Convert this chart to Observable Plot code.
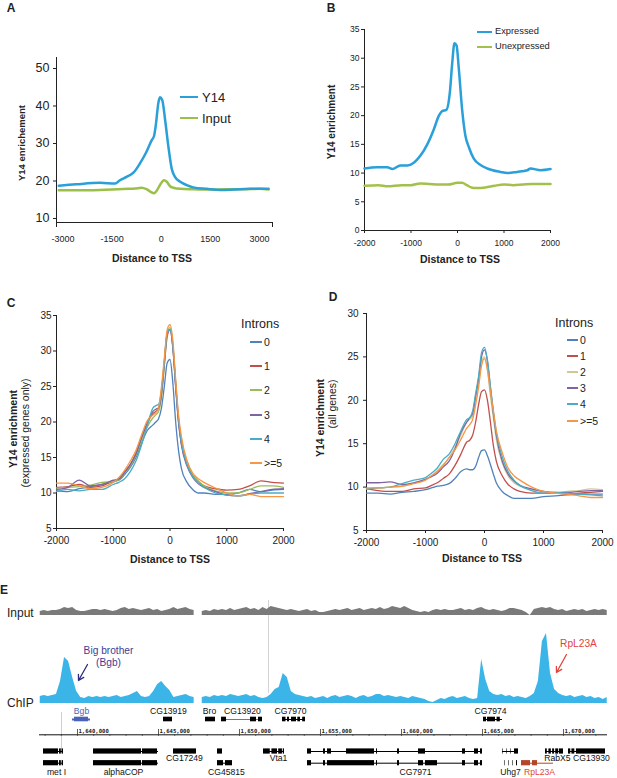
<!DOCTYPE html>
<html><head><meta charset="utf-8">
<script src="https://cdn.jsdelivr.net/npm/d3@7"></script>
<script src="https://cdn.jsdelivr.net/npm/@observablehq/plot@0.6"></script>
<style>
body{margin:0;background:#fff;}
#fig{position:relative;width:617px;height:778px;overflow:hidden;font-family:"Liberation Sans",Arial,Helvetica,sans-serif;color:#222;background:#fff;}
.t{position:absolute;white-space:nowrap;line-height:1;}
.p{position:absolute;}
.p svg{display:block;overflow:visible;}
.sw{position:absolute;height:2px;}
</style></head><body><div id="fig"></div>
<script>
// ---------------- DATA ----------------
// Panel A
const aY14X   = [-3130,-2600,-1870,-1410,-1260,-1060,-850,-650,-450,-290,-220,-160,-90,-40,30,120,220,320,420,580,780,980,1390,1800,2210,2700,3280];
const aY14    = [18.7,19.1,19.5,19.3,20.2,21.1,22.2,24.7,27.8,30.9,32.0,35.3,40.7,42.3,41.6,36.2,29.1,23.3,21.1,19.8,18.9,18.3,17.9,17.6,17.7,17.9,17.9];
const aInputX = [-3130,-2600,-1870,-1500,-1000,-800,-600,-450,-320,-220,-140,-40,85,170,270,370,580,1000,1500,2000,2500,3000,3280];
const aInput  = [17.5,17.5,17.6,17.7,17.9,18.0,18.2,17.8,17.1,16.7,17.4,18.9,20.2,19.8,18.6,18.2,17.9,17.8,17.7,17.8,17.8,17.9,17.7];
const aXTicks = [-3000,-1500,0,1500,3000];
const aYTicks = [10,20,30,40,50];
const aLegend = ["Y14","Input"];

// Panel B
const bExprX  = [-2000,-1730,-1510,-1400,-1230,-1080,-940,-800,-650,-510,-400,-330,-240,-165,-115,-65,-20,30,100,170,245,350,495,640,925,1070,1280,1500,1570,1790,2000];
const bExpr   = [10.8,11.0,11.0,10.7,11.3,11.3,11.8,13.0,15.0,17.6,20.0,20.8,21.0,24.0,29.0,32.6,32.2,28.0,21.0,16.5,14.5,12.5,11.4,10.8,10.2,10.0,10.2,10.5,10.8,10.5,10.7];
const bUnexX  = [-2000,-1700,-1500,-1200,-1000,-800,-600,-400,-200,0,100,200,300,400,600,800,1000,1200,1400,1600,1800,2000];
const bUnex   = [7.8,7.9,7.7,7.9,7.9,8.2,8.1,8.0,8.0,8.3,8.3,7.9,7.5,7.4,7.5,7.8,8.0,7.9,8.0,8.1,8.1,8.1];
const bXTicks = [-2000,-1000,0,1000,2000];
const bYTicks = [0,5,10,15,20,25,30,35];
const bLegend = ["Expressed","Unexpressed"];

// Panels C & D (shared distance grid)
const cdX = [-2000,-1800,-1600,-1400,-1200,-1000,-900,-800,-700,-600,-500,-400,-300,-250,-200,-150,-100,-50,0,50,100,150,200,300,400,500,600,800,1000,1200,1400,1600,1800,2000];
const intronClasses = ["0","1","2","3","4",">=5"];
const cIntron0 = [10.3,10.2,10.6,10.9,11.2,11.6,11.8,12.6,13.6,15.0,17.0,18.8,19.6,20.0,20.5,22.0,25.0,28.3,28.8,25.5,20.0,16.0,13.5,11.5,10.5,10.0,10.0,9.8,9.8,10.0,10.5,10.2,10.4,10.5];
const cIntron1 = [10.8,10.9,11.2,10.8,11.0,11.7,12.0,13.0,14.0,15.6,17.8,19.8,21.2,21.5,22.0,24.0,28.0,32.0,33.0,30.5,25.0,20.0,17.0,14.0,12.5,11.6,11.0,10.6,10.4,10.5,11.0,11.7,11.5,11.4];
const cIntron2 = [10.7,10.8,10.9,11.1,11.5,11.6,11.9,12.8,13.8,15.3,17.5,19.3,20.6,21.0,21.5,23.5,28.0,32.5,33.3,31.0,25.5,20.5,17.5,14.5,12.6,11.7,11.0,10.3,10.0,10.0,10.5,11.0,11.0,10.8];
const cIntron3 = [10.5,10.8,11.8,11.0,11.2,11.8,12.0,12.9,14.0,15.5,17.8,19.9,21.5,21.8,22.0,24.0,28.5,32.5,33.0,30.5,25.0,20.0,16.8,13.8,12.2,11.3,10.8,10.2,9.7,9.6,9.9,10.2,10.5,10.6];
const cIntron4 = [10.2,10.5,10.3,10.5,10.5,11.2,11.5,12.0,13.0,14.5,16.8,19.5,22.0,22.3,22.5,24.5,28.5,32.5,33.0,30.8,25.5,20.5,17.2,14.0,12.3,11.4,10.8,10.0,9.7,9.6,9.8,10.0,10.0,10.0];
const cIntron5 = [11.4,11.4,11.0,10.6,10.8,11.5,12.2,13.2,14.5,16.0,18.2,20.2,21.0,21.3,22.0,25.0,29.0,33.0,33.7,31.5,26.0,21.0,18.0,14.5,12.8,12.0,11.5,10.7,10.0,9.6,9.8,9.5,9.5,9.5];
const dIntron0 = [9.3,9.3,9.2,9.4,9.5,9.7,9.9,10.1,10.2,10.4,11.0,11.8,12.1,12.0,12.0,12.4,13.4,14.2,14.3,13.6,12.6,11.5,10.5,9.5,9.0,8.7,8.7,8.7,8.9,9.0,9.1,9.2,9.2,9.2];
const dIntron1 = [9.8,9.6,9.5,9.5,9.8,9.9,10.2,10.5,11.0,11.5,12.5,13.8,15.2,15.4,16.0,17.5,19.5,21.0,21.2,20.0,17.5,14.8,13.0,11.3,10.3,9.8,9.5,9.3,9.3,9.3,9.2,9.3,9.4,9.5];
const dIntron2 = [9.8,9.9,10.0,10.1,10.5,10.9,11.3,11.9,12.6,13.4,14.6,16.0,17.5,17.8,18.2,20.0,22.0,24.5,25.0,23.5,20.5,18.0,15.5,12.8,11.3,10.5,10.1,9.7,9.5,9.3,9.5,9.6,9.8,9.7];
const dIntron3 = [10.5,10.5,10.6,10.3,10.5,10.9,11.2,11.6,12.3,13.0,14.4,16.3,17.5,18.0,18.5,20.5,22.5,25.0,25.8,24.5,21.5,18.5,16.0,13.0,11.5,10.7,10.2,9.8,9.5,9.4,9.4,9.5,9.6,9.6];
const dIntron4 = [9.8,9.9,10.0,10.4,10.8,11.1,11.6,12.2,13.2,13.8,15.0,16.5,17.8,18.0,18.8,20.8,22.8,25.5,26.1,24.6,21.6,18.8,16.3,13.5,11.8,10.8,10.2,9.6,9.3,9.4,9.3,9.2,9.1,9.0];
const dIntron5 = [9.9,9.9,10.0,10.1,10.4,10.8,11.3,11.8,12.5,13.4,14.3,15.5,16.8,17.2,17.8,19.5,21.5,24.0,24.8,23.5,21.0,18.8,16.5,14.0,12.2,11.3,10.8,10.0,9.5,9.3,9.2,9.0,8.8,8.8];
const cYTicks = [5,10,15,20,25,30,35];
const dYTicks = [5,10,15,20,25,30];

// Panel E: genome browser (chr positions, bp)
const browserRange = [1637654, 1672717];
const trackStart = 1637700, trackStep = 250;
const inputSignal = [4,5,4,5,5, 6,8,7,8,5, 4,4,5,6,6, 5,6,5,4,5, 7,8,6,7,6, 5,6,7,5,6, 4,5,6,8,6, 7,8,6,5, null,
  4,5,4,6,5, 6,5,7,5,6, 7,8,6,7,5, 8,6,9,8,7, 6,5,6,5,4, 5,6,4,5,3, 3,4,5,6,5, 6,7,5,6,7, 5,6,7,6,8, 6,7,9,8,7,
  9,7,5,4,3, 4,3,5,6,5, 6,5,5,6,7, 5,6,5,7,8, 6,5,6,5,4, 5,7,7,6,5, 3,0,6,7,8, 7,8,6,5,6, 4,5,6,5,6, 4,5,6,5,6,5];
const chipSignal = [7,8,7,8,9, 22,46,42,26,12, 6,5,7,6,7, 6,7,6,7,8, 6,7,8,10,12, 7,6,7,12,19, 22,17,13,6,7, 8,9,7,6, null,
  6,7,6,8,7, 8,7,9,8,7, 8,9,7,8,6, 5,6,9,14,16, 30,26,12,9,8, 7,6,7,5,6, 7,5,7,8,6, 7,8,7,5,7, 8,6,7,9,9, 7,8,7,6,7,
  6,5,7,6,5, 4,2,1,3,5, 4,6,7,5,6, 7,5,4,5,44, 24,12,9,8,9, 7,8,6,7,6, 5,7,10,22,62, 70,30,14,10,8, 7,8,6,7,8, 6,7,5,6,4,6];
const cursorPos = 1651790;
const metGuidePos = 1639012;
const genomeTicks = [1640000,1645000,1650000,1655000,1660000,1665000,1670000];
const genes = [
  {name:"Bgb",     row:"upper", start:1639691, end:1640802, color:"#4a63b6", exons:[[1639815,1640679]]},
  {name:"CG13919", row:"upper", start:1645309, end:1645864, color:"#000", exons:[[1645309,1645864]]},
  {name:"Bro",     row:"upper", start:1647901, end:1648519, color:"#000", exons:[[1647901,1648519]]},
  {name:"CG13920", row:"upper", start:1648889, end:1651420, color:"#777", exons:[[1648889,1649198],[1650680,1651050],[1651173,1651420]]},
  {name:"CG7970",  row:"upper", start:1652655, end:1654075, color:"#000", exons:[[1652655,1652870],[1652963,1653087],[1653210,1653519],[1653600,1653766],[1653900,1654075]]},
  {name:"CG7974",  row:"upper", start:1665063, end:1666235, color:"#000", exons:[[1665063,1665250],[1665310,1665803],[1665900,1666100]]},
  {name:"met I",   row:"a", start:1637901, end:1639136, color:"#000", exons:[[1637901,1638827],[1638889,1639000],[1639050,1639136]]},
  {name:"met I",   row:"b", start:1637901, end:1639136, color:"#000", exons:[[1637901,1638827],[1638889,1639000],[1639050,1639136]]},
  {name:"alphaCOP",row:"a", start:1640988, end:1645000, color:"#000", exons:[[1640988,1643951],[1644012,1644938]]},
  {name:"alphaCOP",row:"b", start:1640988, end:1645000, color:"#000", exons:[[1640988,1643951],[1644012,1644938]]},
  {name:"CG17249", row:"a", start:1645926, end:1647346, color:"#000", exons:[[1645926,1647346]]},
  {name:"CG45815", row:"a", start:1648642, end:1648951, color:"#000", exons:[[1648642,1648951]]},
  {name:"CG45815", row:"b", start:1648642, end:1649568, color:"#000", exons:[[1648642,1649012],[1649136,1649568]]},
  {name:"Vta1",    row:"a", start:1651482, end:1652778, color:"#000", exons:[[1651482,1651900],[1652000,1652346],[1652420,1652650],[1652700,1652778]]},
  {name:"CG7971",  row:"a", start:1654198, end:1665000, color:"#000", exons:[[1654198,1654445],[1655186,1655309],[1655433,1655680],[1656605,1658334],[1658458,1658519],[1659754,1659877],[1661050,1661482],[1663766,1663951],[1664507,1664754],[1664877,1665000]]},
  {name:"CG7971",  row:"b", start:1654198, end:1665000, color:"#000", exons:[[1654198,1654445],[1655186,1655309],[1655433,1658334],[1658458,1658519],[1659754,1659877],[1661050,1661360],[1661480,1662223],[1663766,1663951],[1664507,1664754],[1664877,1665000]]},
  {name:"Uhg7",    row:"a", start:1666235, end:1667223, color:"#000", exons:[[1666235,1666270],[1666482,1666517],[1666729,1666764],[1666976,1667223]]},
  {name:"Uhg7",    row:"b", start:1666358, end:1666887, color:"none", exons:[[1666358,1666393],[1666605,1666640],[1666852,1666887],[1667100,1667161]]},
  {name:"RpL23A",  row:"b", start:1667408, end:1669384, color:"#b5452a", exons:[[1667408,1667964],[1668087,1668396]]},
  {name:"RabX5",   row:"a", start:1668890, end:1670000, color:"#000", exons:[[1668890,1669000],[1669100,1669250],[1669330,1669450],[1669520,1669700],[1669750,1670000]]},
  {name:"CG13930", row:"a", start:1670309, end:1672593, color:"#000", exons:[[1670309,1670450],[1670520,1670700],[1670800,1672593]]}
];
const geneLabels = [
  {name:"Bgb", pos:1640247, row:"upperLabel", color:"#4a63b6"},
  {name:"CG13919", pos:1645617, row:"upperLabel", color:"#111"},
  {name:"Bro", pos:1648148, row:"upperLabel", color:"#111"},
  {name:"CG13920", pos:1650185, row:"upperLabel", color:"#111"},
  {name:"CG7970", pos:1653149, row:"upperLabel", color:"#111"},
  {name:"CG7974", pos:1665494, row:"upperLabel", color:"#111"},
  {name:"met I", pos:1638704, row:"belowB", color:"#111"},
  {name:"alphaCOP", pos:1642840, row:"belowB", color:"#111"},
  {name:"CG17249", pos:1646605, row:"belowA", color:"#111"},
  {name:"CG45815", pos:1649198, row:"belowB", color:"#111"},
  {name:"Vta1", pos:1652408, row:"belowA", color:"#111"},
  {name:"CG7971", pos:1660864, row:"belowB", color:"#111"},
  {name:"Uhg7", pos:1666729, row:"belowB", color:"#111"},
  {name:"RpL23A", pos:1668519, row:"belowB", color:"#e0443c"},
  {name:"RabX5", pos:1669630, row:"belowA", color:"#111"},
  {name:"CG13930", pos:1671729, row:"belowA", color:"#111"}
];
const annotations = [
  {text:"Big brother\n(Bgb)", pos:1641914, level:47.5, color:"#3d3d96"},
  {text:"RpL23A", pos:1670926, level:61, color:"#e0443c"}
];
const annotationArrows = [
  {from:1640617, fromLevel:39, to:1640062, toLevel:23, color:"#2b2b80"},
  {from:1670185, fromLevel:49, to:1669569, toLevel:31, color:"#e0443c"}
];

// ---------------- LAYOUT HELPERS ----------------
const FONT = '"Liberation Sans", Arial, Helvetica, sans-serif';
const fig = document.getElementById("fig");
function put(node, left, top){ const d=document.createElement("div"); d.className="p"; d.style.left=left+"px"; d.style.top=top+"px"; d.appendChild(node); fig.appendChild(d); }
function txt(text, x, y, o={}){
  const d=document.createElement("div"); d.className="t"; d.textContent=text;
  d.style.left=x+"px"; d.style.top=y+"px"; d.style.fontSize=(o.size||10)+"px";
  d.style.fontWeight=o.bold?"bold":"normal"; d.style.color=o.color||"#222";
  const ax=o.anchor==="start"?"0":o.anchor==="end"?"-100%":"-50%";
  d.style.transform=`translate(${ax},-50%)`+(o.rotate?` rotate(${o.rotate}deg)`:"");
  fig.appendChild(d);
}
function sw(x1,x2,y,color,w){ const d=document.createElement("div"); d.className="sw"; d.style.left=x1+"px"; d.style.width=(x2-x1)+"px"; d.style.top=(y-w/2)+"px"; d.style.height=w+"px"; d.style.background=color; fig.appendChild(d); }
const fmt = d => String(d);

function lineChart(o){
  const marks=[
    Plot.ruleX([o.xDomain[0]],{stroke:"#222",strokeWidth:1}),
    Plot.ruleY([o.yDomain[0]],{stroke:"#222",strokeWidth:1}),
    Plot.axisY({ticks:o.yTicks,tickSize:o.yTickSize,tickPadding:o.yTickPadding,fontSize:o.yFont,tickFormat:fmt,label:null}),
    Plot.axisX({ticks:o.xTicks,tickSize:o.xTickSize,tickPadding:o.xTickPadding,fontSize:o.xFont,tickFormat:fmt,label:null})
  ];
  if(o.endTicks) marks.push(Plot.axisX({ticks:o.endTicks,tickSize:5,tickFormat:()=>"",label:null}));
  for(const s of o.series){
    marks.push(Plot.line(s.y.map((v,i)=>({x:s.x[i],y:v})),{x:"x",y:"y",stroke:s.color,strokeWidth:o.strokeWidth,curve:"monotone-x"}));
  }
  return Plot.plot({width:o.width,height:o.height,marginTop:o.m[0],marginRight:o.m[1],marginBottom:o.m[2],marginLeft:o.m[3],
    x:{domain:o.xDomain},y:{domain:o.yDomain},
    style:{fontFamily:FONT,color:"#222",background:"none",overflow:"visible"},marks});
}

// ---------------- PANEL A ----------------
const colY14="#2a9fd8", colInput="#9bc04a";
put(lineChart({width:300,height:230,m:[17,28,48,56],xDomain:[-3200,3400],yDomain:[8.93,52.93],
  xTicks:aXTicks,yTicks:aYTicks,xTickSize:0,xTickPadding:13,xFont:9,yTickSize:3,yTickPadding:4,yFont:12.5,
  endTicks:[-3200,3400],strokeWidth:2.5,
  series:[{x:aInputX,y:aInput,color:colInput},{x:aY14X,y:aY14,color:colY14}]}),0,40);
txt("A",11,8,{size:12,bold:true});
txt("Distance to TSS",152,258,{size:10.5,bold:true});
txt("Y14 enrichement",22,143,{size:9.5,bold:true,rotate:-90});
sw(180,198,97,colY14,2.5); txt(aLegend[0],202,97,{size:13,anchor:"start"});
sw(180,198,118,colInput,2.5); txt(aLegend[1],202,118,{size:13,anchor:"start"});

// ---------------- PANEL B ----------------
const colExpr="#2a9fd9", colUnex="#a3c14a";
put(lineChart({width:317,height:250,m:[9,67,40,64],xDomain:[-2000,2000],yDomain:[0,35],
  xTicks:bXTicks,yTicks:bYTicks,xTickSize:3,xTickPadding:6,xFont:8.5,yTickSize:3,yTickPadding:2,yFont:8.5,
  strokeWidth:2.5,
  series:[{x:bUnexX,y:bUnex,color:colUnex},{x:bExprX,y:bExpr,color:colExpr}]}),300,20);
txt("B",331,8,{size:12,bold:true});
txt("Distance to TSS",460,259,{size:10.5,bold:true});
txt("Y14 enrichment",332,122,{size:10,bold:true,rotate:-90});
sw(477,492,32,colExpr,2.2); txt(bLegend[0],495,32,{size:9.3,anchor:"start"});
sw(477,492,47,colUnex,2.2); txt(bLegend[1],495,47,{size:9.3,anchor:"start"});

// ---------------- PANEL C ----------------
const colorsC=["#4f81bd","#c0504d","#9bbb59","#8064a2","#4bacc6","#f79646"];
const colorsD=["#4f81bd","#c0504d","#cdca98","#8064a2","#4bacc6","#f79646"];
const cSeries=[cIntron0,cIntron1,cIntron2,cIntron3,cIntron4,cIntron5];
const dSeries=[dIntron0,dIntron1,dIntron2,dIntron3,dIntron4,dIntron5];
put(lineChart({width:300,height:270,m:[15,17,42,56],xDomain:[-2000,2000],yDomain:[5,35],
  xTicks:bXTicks,yTicks:cYTicks,xTickSize:3,xTickPadding:5,xFont:10,yTickSize:3,yTickPadding:2,yFont:10,
  strokeWidth:1.3,series:cSeries.map((y,i)=>({x:cdX,y,color:colorsC[i]}))}),0,300);
txt("C",11,303,{size:12,bold:true});
txt("Distance to TSS",170,559,{size:10.5,bold:true});
txt("Y14 enrichment",13,429,{size:10.5,bold:true,rotate:-90});
txt("(expressed genes only)",25,433,{size:10.5,rotate:-90});
txt("Introns",241,324,{size:12.5,anchor:"start"});
[342,366,390,415,439,463].forEach((y,i)=>{ sw(250,262,y,colorsC[i],1.6); txt(intronClasses[i],264,y,{size:10.5,anchor:"start"}); });

// ---------------- PANEL D ----------------
put(lineChart({width:317,height:270,m:[13,15,40,66],xDomain:[-2000,2000],yDomain:[5,30],
  xTicks:bXTicks,yTicks:dYTicks,xTickSize:3,xTickPadding:5,xFont:10,yTickSize:3,yTickPadding:5,yFont:10,
  strokeWidth:1.3,series:dSeries.map((y,i)=>({x:cdX,y,color:colorsD[i]}))}),300,300);
txt("D",333,297,{size:12,bold:true});
txt("Distance to TSS",482,558,{size:10.5,bold:true});
txt("Y14 enrichment",320,418,{size:10.5,bold:true,rotate:-90});
txt("(all genes)",332,404,{size:10.5,rotate:-90});
txt("Introns",555,323,{size:12.5,anchor:"start"});
[340,356,372,388,404,421].forEach((y,i)=>{ sw(567,578,y,colorsD[i],1.6); txt(intronClasses[i],580,y,{size:10.5,anchor:"start"}); });

// ---------------- PANEL E ----------------
txt("E",4,590,{size:12,bold:true});
txt("Input",7,613,{size:12,anchor:"start"});
txt("ChIP",7,703,{size:12,anchor:"start"});
const INPUT_BASE = 88;
const inputData = inputSignal.map((v,i)=>({pos:trackStart+i*trackStep, v}));
const chipData  = chipSignal.map((v,i)=>({pos:trackStart+i*trackStep, v}));
const gx = {domain:browserRange, range:[39,607]};
const trackPlot = Plot.plot({width:617,height:107,marginTop:0,marginBottom:0,marginLeft:0,marginRight:0,
  x:{...gx,axis:null}, y:{domain:[0,105],range:[105,0],axis:null},
  style:{fontFamily:FONT,background:"none",overflow:"visible"},
  marks:[
    Plot.ruleX([cursorPos],{y1:()=>10,y2:()=>103,stroke:"#d4d4d4",strokeWidth:1}),
    Plot.areaY(inputData,{x:"pos",y1:()=>INPUT_BASE,y2:d=>d.v==null?NaN:INPUT_BASE+d.v,fill:"#7a7a7a"}),
    Plot.areaY(chipData,{x:"pos",y1:()=>0,y2:d=>d.v==null?NaN:d.v,fill:"#3bb5e8"}),
    Plot.text(annotations,{x:"pos",y:"level",text:"text",fill:"color",fontSize:10.2,lineHeight:1.25}),
    Plot.arrow(annotationArrows,{x1:"from",y1:"fromLevel",x2:"to",y2:"toLevel",stroke:"color",strokeWidth:1.3,headLength:7})
  ]});
put(trackPlot,0,598);

const rowY = {upper:14, a:46, b:57.7};
const labelY = {upperLabel:6, belowA:53, belowB:66.7};
const exonRects = genes.flatMap(g=>g.exons.map(([s,e])=>({s,e,row:g.row,color:(g.color==="#777"||g.color==="none")?"#000":g.color})));
const minorTicks = d3.range(1638000,1673000,1000);
const geneH = {upper:2.3, a:2.6, b:2.6};
const genePlot = Plot.plot({width:617,height:73,marginTop:0,marginBottom:0,marginLeft:0,marginRight:0,
  x:{...gx,axis:null}, y:{domain:[0,73],range:[0,73],axis:null},
  style:{fontFamily:FONT,background:"none",overflow:"visible"},
  marks:[
    Plot.ruleX([metGuidePos],{y1:()=>7,y2:()=>48,stroke:"#cfcfcf",strokeWidth:1}),
    Plot.ruleY(genes.filter(g=>g.color!=="none"),{x1:"start",x2:"end",y:d=>rowY[d.row],stroke:"color",strokeWidth:d=>d.name==="Bgb"?2:1}),
    Plot.rect(exonRects,{x1:"s",x2:"e",y1:d=>rowY[d.row]-geneH[d.row],y2:d=>rowY[d.row]+geneH[d.row],fill:"color"}),
    Plot.ruleY([29.3],{x1:()=>browserRange[0],x2:()=>browserRange[1],stroke:"#111",strokeWidth:1}),
    Plot.ruleX(minorTicks,{y1:()=>29.3,y2:()=>31,stroke:"#333",strokeWidth:0.7}),
    Plot.ruleX(genomeTicks,{y1:()=>24,y2:()=>29.3,stroke:"#333",strokeWidth:0.8}),
    Plot.text(genomeTicks,{x:d=>d,y:()=>25.7,text:d=>d3.format(",")(d),textAnchor:"start",dx:1,fontSize:5.6,fontWeight:"bold",fontFamily:"DejaVu Sans Mono, monospace",fill:"#222"}),
    Plot.text(geneLabels,{x:"pos",y:d=>labelY[d.row],text:"name",fill:"color",fontSize:8.6})
  ]});
put(genePlot,0,705);
</script></body></html>
